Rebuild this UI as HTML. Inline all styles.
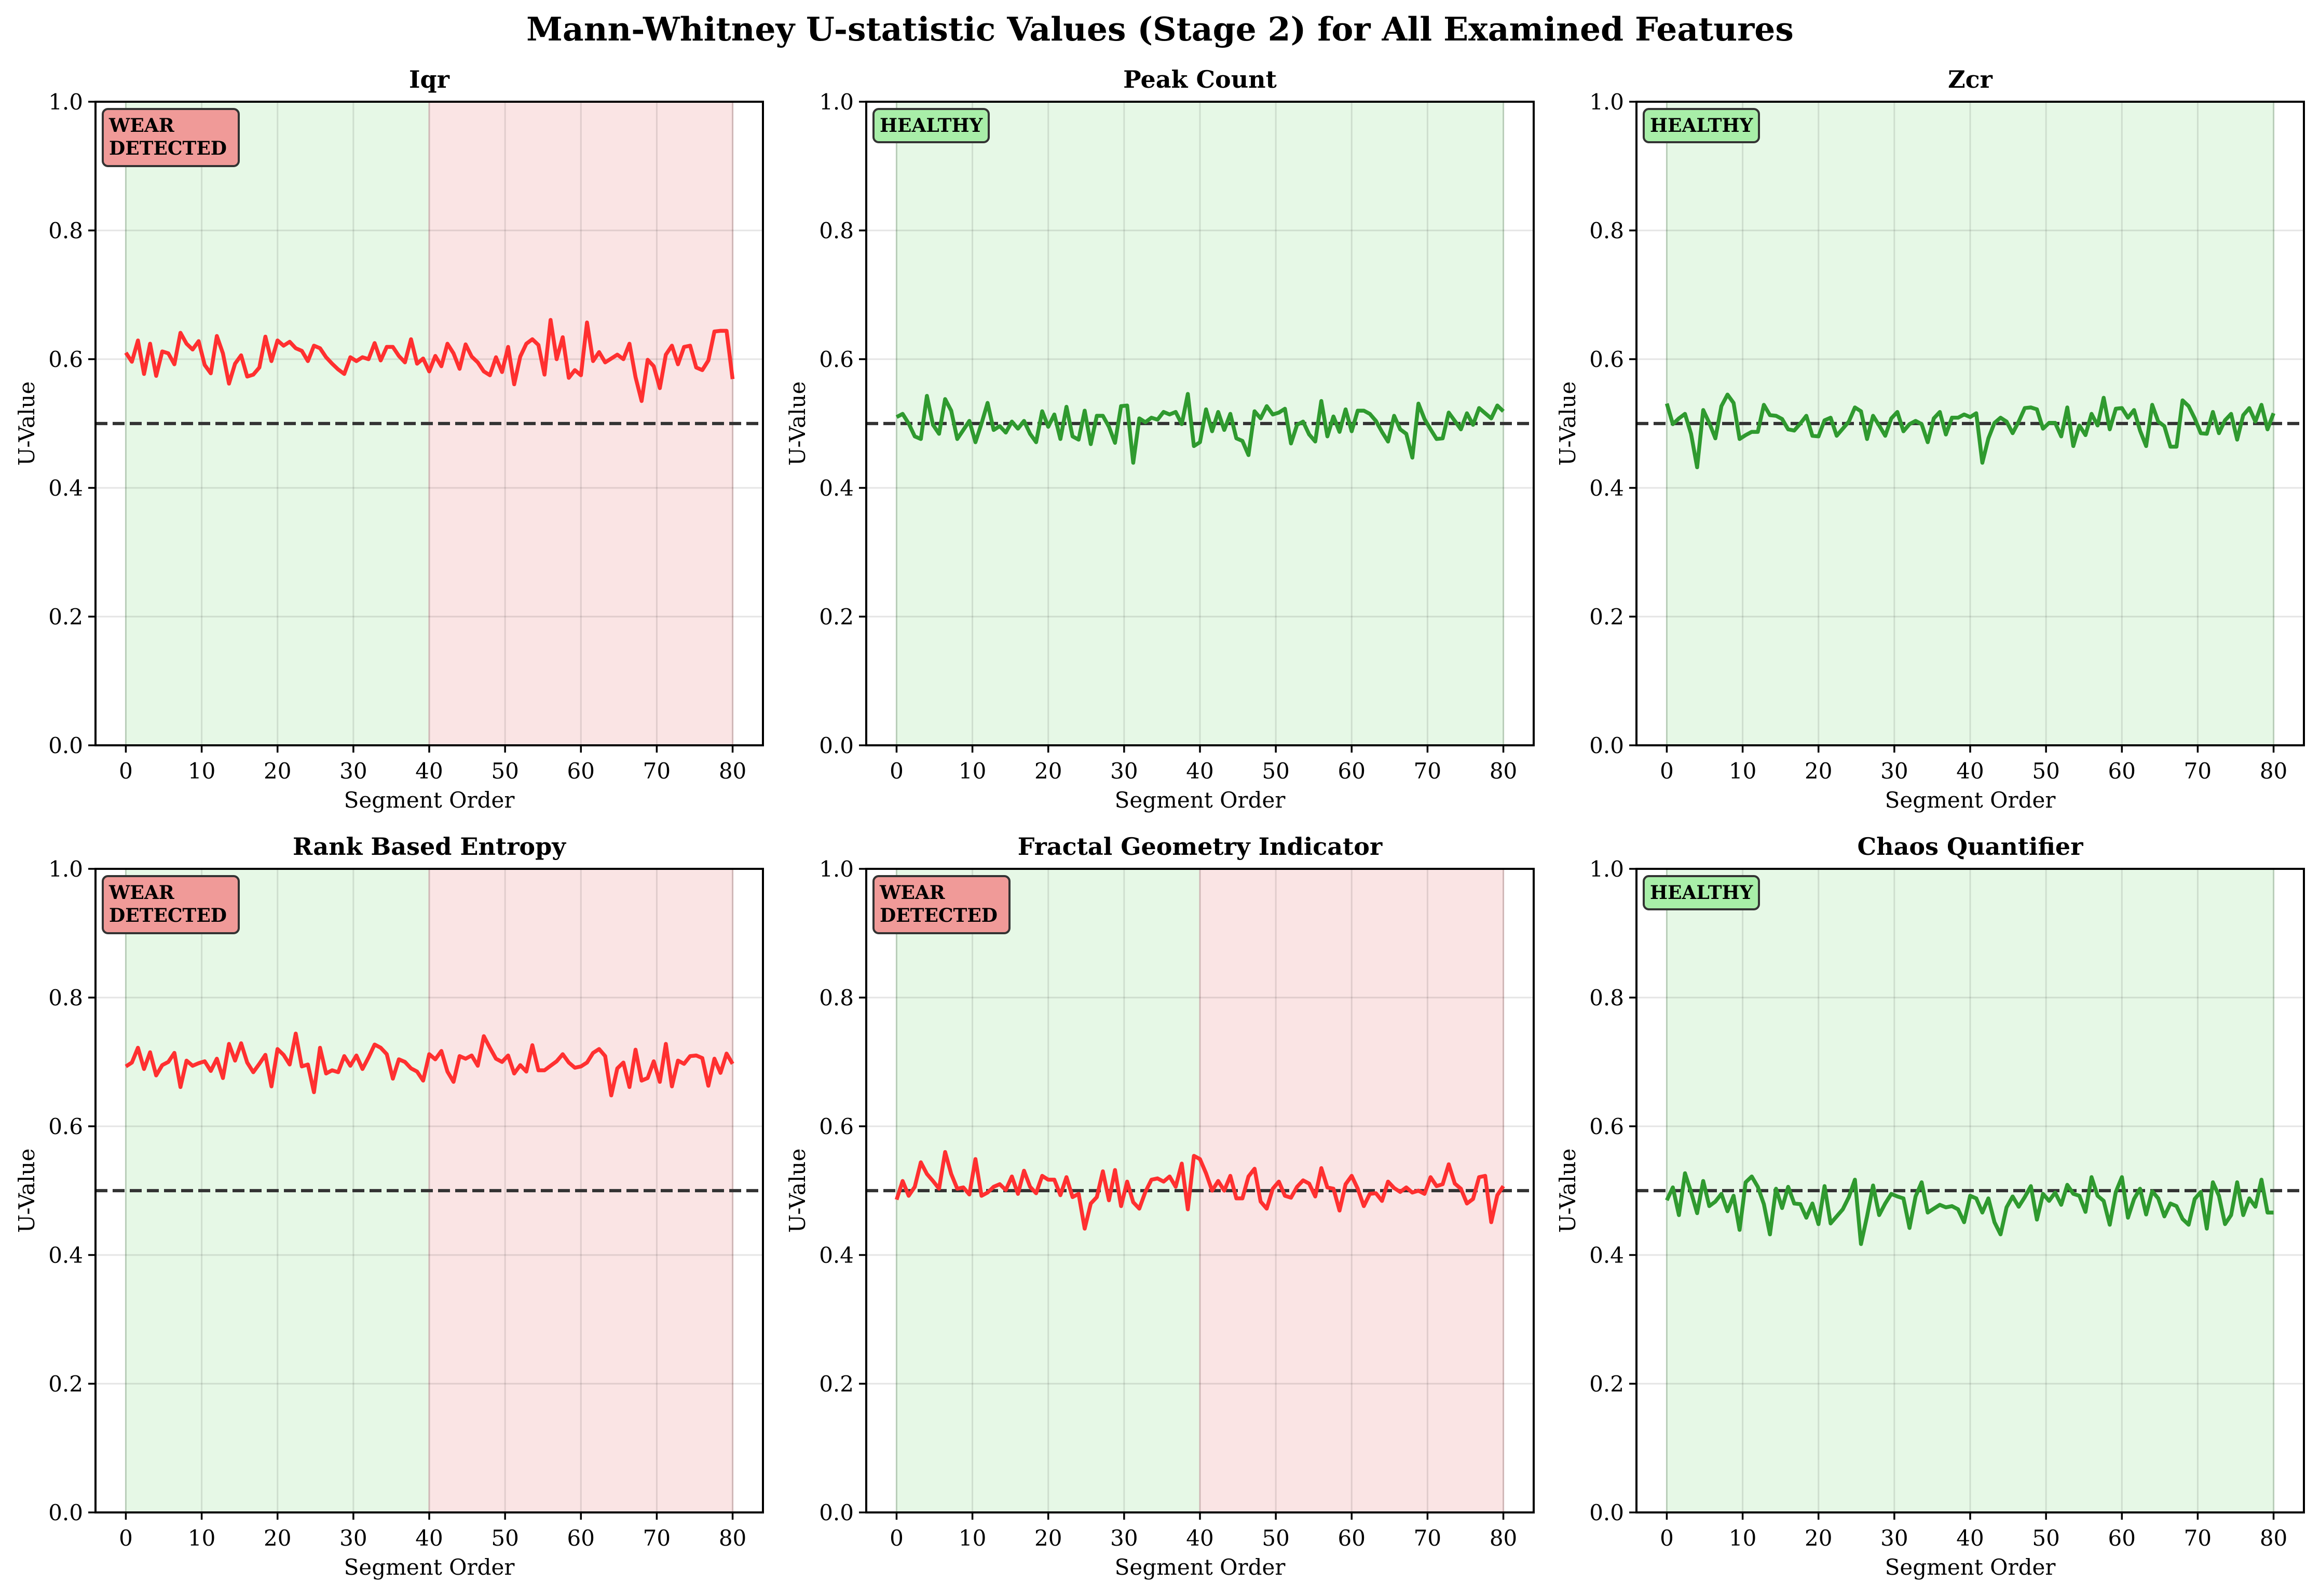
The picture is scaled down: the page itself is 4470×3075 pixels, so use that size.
<!DOCTYPE html>
<html><head><meta charset="utf-8">
<style>
html,body{margin:0;padding:0;background:#fff;}
svg{display:block;font-family:"DejaVu Serif","Liberation Serif",serif;}
</style></head>
<body>
<svg id="fig" width="4470" height="3075" viewBox="0 0 4470 3075" xmlns="http://www.w3.org/2000/svg">
<rect width="4470" height="3075" fill="#fff"/>
<text x="2235" y="78" font-size="63" font-weight="bold" text-anchor="middle">Mann-Whitney U-statistic Values (Stage 2) for All Examined Features</text>
</svg>
<script>
const featureNames = ["Iqr","Peak Count","Zcr","Rank Based Entropy","Fractal Geometry Indicator","Chaos Quantifier"];
const featureStatus = ["wear","healthy","healthy","wear","wear","healthy"];
const yTicks = [0.0,0.2,0.4,0.6,0.8,1.0];
const xTicks = [0,10,20,30,40,50,60,70,80];
const threshold = 0.5;
const splitPoint = 40;
const xMaxSeg = 80;
const iqrValues = [0.610,0.596,0.629,0.577,0.624,0.574,0.612,0.609,0.592,0.641,0.624,0.615,0.628,0.591,0.578,0.636,0.609,0.562,0.593,0.606,0.573,0.576,0.587,0.635,0.597,0.629,0.621,0.627,0.617,0.613,0.597,0.621,0.617,0.603,0.593,0.584,0.577,0.603,0.597,0.603,0.600,0.625,0.598,0.619,0.619,0.605,0.595,0.631,0.593,0.601,0.581,0.605,0.589,0.624,0.609,0.585,0.623,0.604,0.595,0.581,0.575,0.603,0.580,0.619,0.561,0.604,0.624,0.631,0.622,0.576,0.661,0.600,0.634,0.571,0.583,0.575,0.657,0.597,0.611,0.595,0.601,0.607,0.600,0.624,0.572,0.535,0.599,0.589,0.555,0.607,0.621,0.592,0.619,0.621,0.587,0.583,0.598,0.643,0.644,0.644,0.569];
const peakValues = [0.510,0.515,0.500,0.480,0.476,0.543,0.498,0.484,0.538,0.520,0.476,0.490,0.504,0.471,0.500,0.532,0.490,0.496,0.486,0.503,0.492,0.504,0.484,0.471,0.519,0.495,0.514,0.476,0.526,0.480,0.475,0.520,0.468,0.512,0.512,0.495,0.470,0.527,0.528,0.439,0.508,0.502,0.509,0.506,0.518,0.514,0.518,0.499,0.546,0.465,0.471,0.522,0.488,0.518,0.490,0.515,0.477,0.473,0.451,0.519,0.508,0.527,0.514,0.517,0.523,0.469,0.498,0.503,0.483,0.472,0.535,0.480,0.511,0.487,0.522,0.488,0.520,0.520,0.515,0.504,0.487,0.472,0.512,0.491,0.484,0.447,0.531,0.507,0.491,0.476,0.477,0.517,0.504,0.491,0.516,0.498,0.524,0.516,0.508,0.528,0.519];
const zcrValues = [0.531,0.499,0.508,0.515,0.484,0.432,0.521,0.501,0.477,0.527,0.545,0.532,0.476,0.482,0.487,0.487,0.529,0.513,0.512,0.507,0.491,0.489,0.500,0.512,0.481,0.480,0.505,0.509,0.481,0.492,0.503,0.525,0.519,0.476,0.512,0.497,0.481,0.508,0.518,0.488,0.499,0.504,0.499,0.471,0.508,0.518,0.483,0.509,0.509,0.514,0.510,0.516,0.439,0.477,0.501,0.509,0.503,0.485,0.503,0.524,0.525,0.522,0.492,0.501,0.501,0.480,0.525,0.465,0.497,0.482,0.515,0.497,0.540,0.491,0.523,0.524,0.509,0.521,0.489,0.465,0.529,0.503,0.496,0.464,0.464,0.536,0.527,0.508,0.485,0.484,0.518,0.485,0.505,0.515,0.475,0.513,0.524,0.503,0.529,0.491,0.516];
const rankValues = [0.693,0.699,0.722,0.689,0.715,0.679,0.695,0.700,0.714,0.661,0.702,0.694,0.698,0.701,0.686,0.705,0.675,0.728,0.702,0.729,0.699,0.684,0.697,0.711,0.662,0.720,0.711,0.696,0.744,0.693,0.696,0.653,0.722,0.682,0.687,0.684,0.709,0.694,0.710,0.689,0.707,0.727,0.722,0.712,0.674,0.704,0.700,0.690,0.685,0.671,0.712,0.704,0.717,0.685,0.669,0.709,0.705,0.710,0.694,0.740,0.722,0.705,0.700,0.710,0.682,0.695,0.685,0.726,0.687,0.687,0.694,0.701,0.712,0.699,0.691,0.693,0.699,0.714,0.720,0.709,0.648,0.690,0.699,0.661,0.719,0.671,0.675,0.701,0.669,0.728,0.662,0.702,0.697,0.709,0.710,0.706,0.663,0.705,0.683,0.713,0.697];
const fractalValues = [0.486,0.515,0.492,0.506,0.544,0.526,0.515,0.503,0.560,0.526,0.503,0.505,0.494,0.549,0.492,0.497,0.506,0.510,0.501,0.522,0.495,0.531,0.506,0.496,0.523,0.517,0.517,0.493,0.521,0.490,0.495,0.441,0.480,0.490,0.530,0.485,0.532,0.476,0.514,0.482,0.472,0.498,0.517,0.519,0.514,0.522,0.506,0.542,0.471,0.554,0.549,0.527,0.500,0.515,0.500,0.523,0.488,0.488,0.522,0.534,0.483,0.472,0.503,0.514,0.492,0.489,0.506,0.516,0.511,0.491,0.535,0.505,0.503,0.469,0.510,0.523,0.503,0.476,0.495,0.496,0.484,0.514,0.504,0.498,0.505,0.497,0.500,0.495,0.521,0.507,0.510,0.541,0.511,0.503,0.480,0.487,0.521,0.523,0.451,0.493,0.507];
const chaosValues = [0.485,0.505,0.462,0.527,0.498,0.465,0.515,0.476,0.483,0.495,0.468,0.492,0.439,0.513,0.522,0.506,0.479,0.432,0.503,0.473,0.506,0.480,0.479,0.458,0.480,0.448,0.507,0.449,0.460,0.471,0.490,0.517,0.417,0.460,0.508,0.462,0.480,0.495,0.491,0.488,0.442,0.491,0.513,0.466,0.472,0.478,0.474,0.476,0.471,0.451,0.492,0.488,0.466,0.488,0.451,0.432,0.474,0.491,0.475,0.490,0.507,0.455,0.495,0.484,0.497,0.478,0.509,0.495,0.492,0.467,0.521,0.492,0.484,0.447,0.498,0.521,0.458,0.487,0.503,0.463,0.499,0.488,0.460,0.480,0.476,0.456,0.447,0.487,0.498,0.441,0.513,0.492,0.448,0.462,0.513,0.462,0.488,0.475,0.517,0.466,0.466];
const seriesList = [iqrValues, peakValues, zcrValues, rankValues, fractalValues, chaosValues];

const NS = "http://www.w3.org/2000/svg";
const svg = document.getElementById('fig');
const colLefts = [184, 1669, 3153];
const rowTops = [196, 1674];
const W = 1286, H = 1240;
function mk(tag, attrs, parent){ const e=document.createElementNS(NS,tag); for(const k in attrs) e.setAttribute(k, attrs[k]); (parent||svg).appendChild(e); return e; }

seriesList.forEach((vals, p) => {
  const L = colLefts[p%3], T = rowTops[Math.floor(p/3)];
  const xs = v => L + (v + 4) / 88 * W;
  const ys = v => T + H - v * H;
  const g = mk('g', {});
  
  
  const wear = featureStatus[p] === 'wear';
  const s1 = mk('rect', {x: xs(0), y: T, width: xs(wear?splitPoint:xMaxSeg)-xs(0), height: H, fill:'#e6f8e6', stroke:'#cfe5cf', 'stroke-width':3}, g);
  
  
  if (wear) {
    const s2 = mk('rect', {x: xs(splitPoint), y: T, width: xs(xMaxSeg)-xs(splitPoint), height: H, fill:'#fae4e4', stroke:'#e8cccc', 'stroke-width':3}, g);
    
    
  }
  xTicks.forEach(t => { const l = mk('line', {x1: xs(t), x2: xs(t), y1: T, y2: T+H, stroke:'#000', 'stroke-opacity':0.1, 'stroke-width':3}, g);
    
     });
  yTicks.forEach(t => { const l = mk('line', {x1: L, x2: L+W, y1: ys(t), y2: ys(t), stroke:'#000', 'stroke-opacity':0.1, 'stroke-width':3}, g);
    
     });
  const th = mk('line', {x1: L, x2: L+W, y1: ys(threshold), y2: ys(threshold), stroke:'#333', 'stroke-width':6.25, 'stroke-dasharray':'23 10'}, g);
  
  
  const n = vals.length;
  const pts = vals.map((v,i) => xs(i*xMaxSeg/(n-1)).toFixed(1)+','+ys(v).toFixed(1)).join(' ');
  const line = mk('polyline', {points: pts, fill:'none', stroke: wear ? '#ff3030' : '#2f9a2f', 'stroke-width':7.5, 'stroke-linejoin':'round'}, g);
  
  
  const fr = mk('rect', {x: L, y: T, width: W, height: H, fill:'none', stroke:'#000', 'stroke-width':4}, g);
  
  
  yTicks.forEach(t => {
    mk('line', {x1: L-14, x2: L, y1: ys(t), y2: ys(t), stroke:'#000', 'stroke-width':3.5}, g);
    const tx = mk('text', {x: L-24, y: ys(t)+15, 'font-size':42, 'text-anchor':'end'}, g);
    tx.textContent = t.toFixed(1);
    
    
  });
  xTicks.forEach(t => {
    mk('line', {x1: xs(t), x2: xs(t), y1: T+H, y2: T+H+14, stroke:'#000', 'stroke-width':3.5}, g);
    const tx = mk('text', {x: xs(t), y: T+H+64, 'font-size':42, 'text-anchor':'middle'}, g);
    tx.textContent = t;
    
    
  });
  const xl = mk('text', {x: L+W/2, y: T+H+120, 'font-size':42, 'text-anchor':'middle'}, g);
  xl.textContent = 'Segment Order';
  
  
  const yl = mk('text', {x: 0, y: 0, 'font-size':42, 'text-anchor':'middle', transform:`translate(${L-118},${T+H/2}) rotate(-90)`}, g);
  yl.textContent = 'U-Value';
  
  
  const tt = mk('text', {x: L+W/2, y: T-27, 'font-size':46, 'font-weight':'bold', 'text-anchor':'middle'}, g);
  tt.textContent = featureNames[p];
  
  
  if (wear) {
    const b = mk('rect', {x: L+14, y: T+14, width: 262, height: 110, rx: 10, fill:'#f09a98', stroke:'#333', 'stroke-width':4}, g);
    
    
    const t1 = mk('text', {x: L+26, y: T+58, 'font-size':36, 'font-weight':'bold'}, g);
    t1.textContent = 'WEAR';
    
    
    const t2 = mk('text', {x: L+26, y: T+102, 'font-size':36, 'font-weight':'bold'}, g);
    t2.textContent = 'DETECTED';
    
    
  } else {
    const b = mk('rect', {x: L+14, y: T+14, width: 222, height: 64, rx: 10, fill:'#a8eea8', stroke:'#333', 'stroke-width':4}, g);
    
    
    const t1 = mk('text', {x: L+26, y: T+58, 'font-size':36, 'font-weight':'bold'}, g);
    t1.textContent = 'HEALTHY';
    
    
  }
});
</script>
</body></html>
